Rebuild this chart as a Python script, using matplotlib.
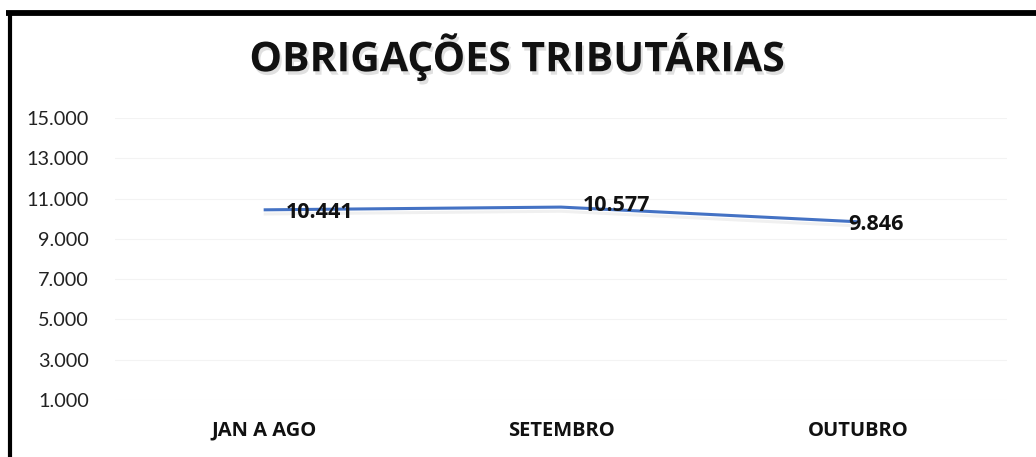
import matplotlib
matplotlib.use("Agg")
import matplotlib.pyplot as plt
import matplotlib.patheffects as pe
from matplotlib.lines import Line2D

categories = ["JAN A AGO", "SETEMBRO", "OUTUBRO"]
values = [10441, 10577, 9846]
value_labels = ["10.441", "10.577", "9.846"]
yticks = [1000, 3000, 5000, 7000, 9000, 11000, 13000, 15000]
ytick_labels = ["1.000", "3.000", "5.000", "7.000", "9.000", "11.000", "13.000", "15.000"]
title = "OBRIGAÇÕES TRIBUTÁRIAS"

plt.rcParams['font.family'] = ['Lato', 'DejaVu Sans']
BOLD = ['Open Sans', 'DejaVu Sans']

W, H = 1036, 457
fig = plt.figure(figsize=(W / 100, H / 100), dpi=100)
ax = fig.add_axes([115 / W, 1 - 400 / H, (1007 - 115) / W, (400 - 118) / H])

x = list(range(len(categories)))
ax.plot(x, values, color="#4472C4", lw=2.2, solid_capstyle="butt",
        path_effects=[pe.SimpleLineShadow(offset=(0, -3), shadow_color="#000000", alpha=0.06, rho=1), pe.Normal()])

ax.set_xlim(-0.5, len(categories) - 0.5)
ax.set_ylim(1000, 15000)
ax.set_yticks(yticks)
ax.set_yticklabels(ytick_labels, fontsize=14.3, color="#222222")
ax.set_xticks(x)
ax.set_xticklabels(categories, fontsize=14.5, fontweight="bold", color="#111111", family=BOLD)
ax.tick_params(axis="both", length=0)
ax.tick_params(axis="y", pad=19)
ax.tick_params(axis="x", pad=15)
ax.grid(axis="y", color="#f3f3f3", lw=0.8)
ax.set_axisbelow(True)
for s in ax.spines.values():
    s.set_visible(False)

offsets = [(16, -2), (16, 1), (-7, -2)]
for xi, v, lab, off in zip(x, values, value_labels, offsets):
    ax.annotate(lab, (xi, v), xytext=off, textcoords="offset points",
                ha="left", va="center", fontsize=15.5, fontweight="bold", color="#111111", family=BOLD)

fig.text(517 / W, 1 - 57 / H, title, ha="center", va="center", fontsize=29.5,
         fontweight="bold", color="#111111", family=BOLD,
         path_effects=[pe.withSimplePatchShadow(offset=(1.5, -2.5), shadow_rgbFace="#000000", alpha=0.12)])

# figure border (top and left)
fig.add_artist(Line2D([6 / W, 1], [1 - 12.5 / H, 1 - 12.5 / H], color="black", lw=4.2, transform=fig.transFigure, solid_capstyle="butt"))
fig.add_artist(Line2D([9.5 / W, 9.5 / W], [0, 1 - 10.5 / H], color="black", lw=3, transform=fig.transFigure, solid_capstyle="butt"))

fig.savefig("out.png", dpi=100)
